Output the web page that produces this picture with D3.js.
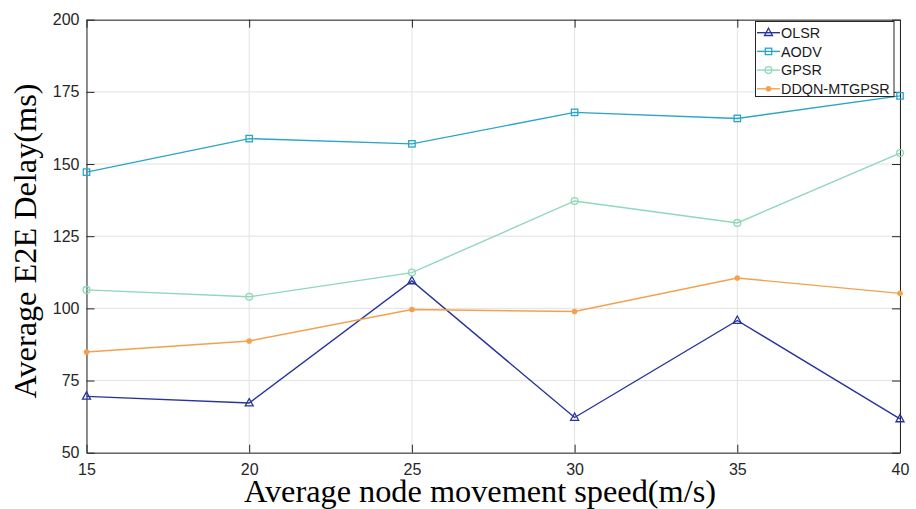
<!DOCTYPE html>
<html><head><meta charset="utf-8">
<script src="https://cdn.jsdelivr.net/npm/d3@7"></script>
<style>body{margin:0;background:#fff}svg{display:block}</style>
</head><body>
<svg id="c" width="916" height="509"></svg>
<script>
const speeds = [15, 20, 25, 30, 35, 40];
const olsr = [69.5, 67.2, 109.5, 62.2, 95.8, 61.7];
const aodv = [147.2, 158.8, 157.0, 167.9, 165.8, 173.6];
const gpsr = [106.4, 104.0, 112.4, 137.2, 129.6, 153.8];
const ddqn = [84.9, 88.7, 99.6, 98.9, 110.5, 105.2];
const seriesNames = ["OLSR", "AODV", "GPSR", "DDQN-MTGPSR"];
const yTicks = [50, 75, 100, 125, 150, 175, 200];
const xTicks = [15, 20, 25, 30, 35, 40];

const series = [
  {name: seriesNames[0], values: olsr, color: "#27359a", marker: "tri"},
  {name: seriesNames[1], values: aodv, color: "#2aa5c9", marker: "sq"},
  {name: seriesNames[2], values: gpsr, color: "#8fd8b8", marker: "circ"},
  {name: seriesNames[3], values: ddqn, color: "#f2a24f", marker: "dot"}
];

const svg = d3.select("#c");
const L = 86.5, R = 900, T = 19.7, B = 452.7;
const x = d3.scaleLinear().domain([15, 40]).range([L, R]);
const y = d3.scaleLinear().domain([50, 200]).range([B, T]);

// grid
const g = svg.append("g");
g.selectAll(".gx").data(xTicks).join("line")
  .attr("x1", d => x(d)).attr("x2", d => x(d)).attr("y1", T).attr("y2", B)
  .attr("stroke", "#e3e3e3").attr("stroke-width", 1);
g.selectAll(".gy").data(yTicks).join("line")
  .attr("y1", d => y(d)).attr("y2", d => y(d)).attr("x1", L).attr("x2", R)
  .attr("stroke", "#e3e3e3").attr("stroke-width", 1);

// axes
const fontTick = "Liberation Sans, Arial, Helvetica, sans-serif";
const yAxis = d3.axisLeft(y).tickValues(yTicks).tickSizeInner(-8).tickSizeOuter(0).tickPadding(7);
const ya = svg.append("g").attr("transform", `translate(${L},0)`).call(yAxis);
const xAxis = d3.axisBottom(x).tickValues(xTicks).tickSizeInner(-8).tickSizeOuter(0).tickPadding(5);
const xa = svg.append("g").attr("transform", `translate(0,${B})`).call(xAxis);
const yAxisR = d3.axisRight(y).tickValues(yTicks).tickSizeInner(-8).tickSizeOuter(0).tickFormat("");
const yr = svg.append("g").attr("transform", `translate(${R},0)`).call(yAxisR);
const xAxisT = d3.axisTop(x).tickValues(xTicks).tickSizeInner(-8).tickSizeOuter(0).tickFormat("");
const xt = svg.append("g").attr("transform", `translate(0,${T})`).call(xAxisT);
[ya, xa, yr, xt].forEach(a => {
  a.selectAll("path").attr("stroke", "#262626").attr("stroke-width", 1);
  a.selectAll("line").attr("stroke", "#262626");
  a.selectAll("text").attr("fill", "#262626").style("font-family", fontTick).style("font-size", "16px");
});
xa.selectAll("text").attr("dy", "1.1em");

// lines
const line = d3.line().x((d, i) => x(speeds[i])).y(d => y(d));
series.forEach(s => {
  svg.append("path").datum(s.values).attr("d", line)
    .attr("fill", "none").attr("stroke", s.color).attr("stroke-width", 1.4);
  drawMarkers(svg, s, s.values.map((v, i) => [x(speeds[i]), y(v)]));
});

function drawMarkers(sel, s, pts) {
  const gg = sel.append("g");
  pts.forEach(([px, py]) => drawMarker(gg, s, px, py));
}
function drawMarker(gg, s, px, py) {
  if (s.marker === "tri") {
    gg.append("path").attr("d", `M${px},${py-4.5}L${px+4},${py+2.8}L${px-4},${py+2.8}Z`)
      .attr("fill", "none").attr("stroke", s.color).attr("stroke-width", 1.3);
  } else if (s.marker === "sq") {
    gg.append("rect").attr("x", px-3.2).attr("y", py-3.2).attr("width", 6.4).attr("height", 6.4)
      .attr("fill", "none").attr("stroke", s.color).attr("stroke-width", 1.3);
  } else if (s.marker === "circ") {
    gg.append("circle").attr("cx", px).attr("cy", py).attr("r", 3.4)
      .attr("fill", "none").attr("stroke", s.color).attr("stroke-width", 1.3);
  } else {
    gg.append("circle").attr("cx", px).attr("cy", py).attr("r", 2.8)
      .attr("fill", s.color).attr("stroke", "none");
  }
}

// legend
const lg = svg.append("g");
lg.append("rect").attr("x", 755.5).attr("y", 21.5).attr("width", 138.5).attr("height", 75)
  .attr("fill", "#fff").attr("stroke", "#262626").attr("stroke-width", 1);
series.forEach((s, i) => {
  const ly = 32.7 + i * 18.7;
  lg.append("line").attr("x1", 757).attr("x2", 780).attr("y1", ly).attr("y2", ly)
    .attr("stroke", s.color).attr("stroke-width", 1.4);
  drawMarker(lg, s, 768.5, ly);
  lg.append("text").attr("x", 781).attr("y", ly).attr("dy", "0.36em")
    .text(s.name).attr("fill", "#1a1a1a")
    .style("font-family", fontTick).style("font-size", "14.4px");
});

// titles
svg.append("text").attr("x", 480).attr("y", 502).attr("text-anchor", "middle")
  .style("font-family", "Liberation Serif, Times New Roman, serif").style("font-size", "32.3px")
  .attr("fill", "#000").text("Average node movement speed(m/s)");
svg.append("text").attr("transform", "translate(36,241) rotate(-90)").attr("text-anchor", "middle")
  .style("font-family", "Liberation Serif, Times New Roman, serif").style("font-size", "32.3px")
  .attr("fill", "#000").text("Average E2E Delay(ms)");
</script>
</body></html>
